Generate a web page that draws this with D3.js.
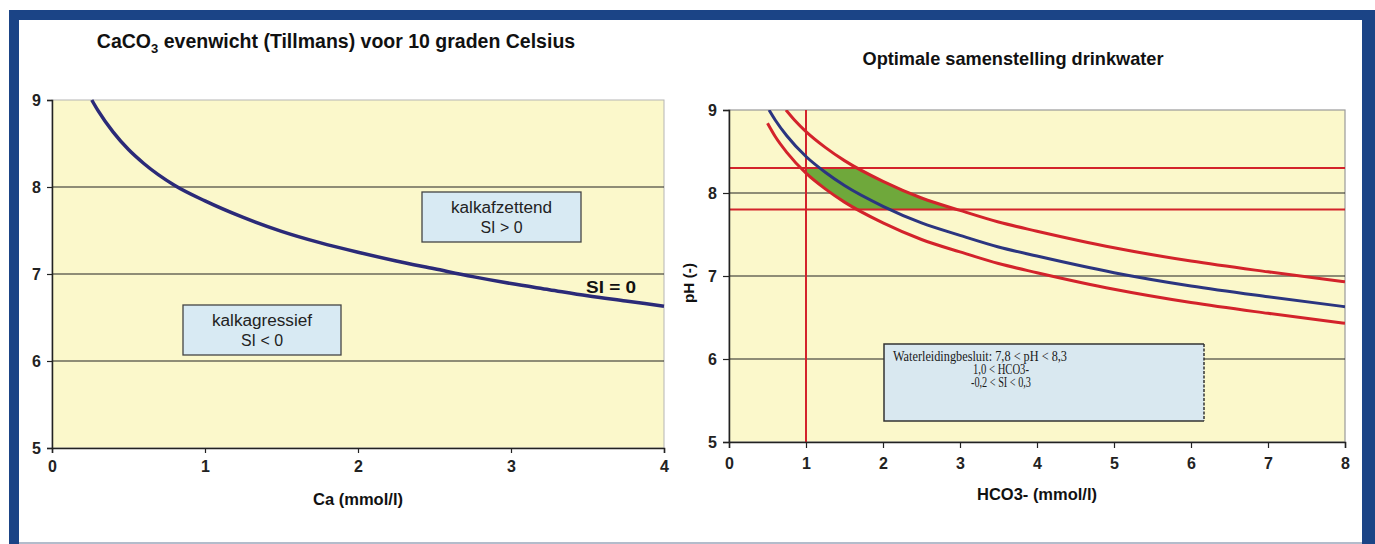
<!DOCTYPE html>
<html>
<head>
<meta charset="utf-8">
<script src="https://cdn.jsdelivr.net/npm/d3@7/dist/d3.min.js"></script>
<style>
  html, body { margin: 0; padding: 0; background: #ffffff; }
  svg { display: block; }
  .tick text { fill: #222; }
</style>
</head>
<body>
<svg id="chart" width="1375" height="544"></svg>
<script>
// ---- Left panel: CaCO3 equilibrium curve (SI = 0) at 10 °C ----
const caValues = [0.26, 0.3, 0.4, 0.5, 0.6, 0.8, 1.0, 1.25, 1.5, 1.75, 2.0, 2.25, 2.5, 2.75, 3.0, 3.25, 3.5, 3.75, 4.0];
const caPH     = [9.00, 8.88, 8.63, 8.43, 8.27, 8.02, 7.84, 7.65, 7.49, 7.36, 7.25, 7.15, 7.06, 6.97, 6.89, 6.82, 6.75, 6.69, 6.63];
const leftXTicks = [0, 1, 2, 3, 4];
const leftYTicks = [5, 6, 7, 8, 9];
const leftGrid = [6, 7, 8];

// ---- Right panel: optimal drinking-water composition ----
const hco3Blue = [0.52, 0.6, 0.75, 1.0, 1.25, 1.5, 2.0, 2.5, 3.0, 3.5, 4.0, 5.0, 6.0, 7.0, 8.0];
const phBlue   = [9.00, 8.88, 8.69, 8.44, 8.25, 8.09, 7.84, 7.64, 7.49, 7.35, 7.24, 7.04, 6.88, 6.75, 6.63];
const hco3Upper = [0.74, 0.85, 1.0, 1.25, 1.5, 2.0, 2.5, 3.0, 3.5, 4.0, 5.0, 6.0, 7.0, 8.0];
const phUpper   = [9.00, 8.88, 8.74, 8.55, 8.39, 8.14, 7.94, 7.79, 7.65, 7.54, 7.34, 7.18, 7.05, 6.93];
const hco3Lower = [0.5, 0.6, 0.75, 1.0, 1.25, 1.5, 2.0, 2.5, 3.0, 3.5, 4.0, 5.0, 6.0, 7.0, 8.0];
const phLower   = [8.84, 8.68, 8.49, 8.24, 8.05, 7.89, 7.64, 7.44, 7.29, 7.15, 7.04, 6.84, 6.68, 6.55, 6.43];
// region that satisfies all limits
const zoneHCO3 = [1.0, 1.66, 1.8, 2.0, 2.25, 2.5, 2.75, 2.95, 1.66, 1.5, 1.35, 1.2, 1.1, 1.0];
const zonePH   = [8.30, 8.30, 8.23, 8.14, 8.04, 7.94, 7.86, 7.80, 7.80, 7.89, 7.98, 8.08, 8.16, 8.24];
const phLimits = [7.8, 8.3];
const hco3Limit = 1.0;
const rightXTicks = [0, 1, 2, 3, 4, 5, 6, 7, 8];
const rightYTicks = [5, 6, 7, 8, 9];
const rightGrid = [6, 7, 8];

const svg = d3.select("#chart");
const frameBlue = "#1b4486";
const plotFill = "#fbf8cb";
const sans = "'Liberation Sans', Arial, sans-serif";

// outer frame
svg.append("rect").attr("x", 9).attr("y", 10).attr("width", 1366).attr("height", 534).attr("fill", frameBlue);
svg.append("rect").attr("x", 19).attr("y", 20).attr("width", 1343).attr("height", 522).attr("fill", "#ffffff");
svg.append("rect").attr("x", 19).attr("y", 542).attr("width", 1343).attr("height", 2).attr("fill", "#b3bccb");

// ===== Left panel =====
const xL = d3.scaleLinear().domain([0, 4]).range([52, 664]);
const yL = d3.scaleLinear().domain([5, 9]).range([448, 100]);
const gL = svg.append("g");

gL.append("rect")
  .attr("x", xL(0)).attr("y", yL(9))
  .attr("width", xL(4) - xL(0)).attr("height", yL(5) - yL(9))
  .attr("fill", plotFill).attr("stroke", "#b5b5b5").attr("stroke-width", 1);

gL.selectAll("line.grid").data(leftGrid).join("line")
  .attr("class", "grid")
  .attr("x1", xL(0)).attr("x2", xL(4))
  .attr("y1", d => yL(d)).attr("y2", d => yL(d))
  .attr("stroke", "#222").attr("stroke-width", 1.2);

const axLY = gL.append("g").attr("transform", `translate(${xL(0)},0)`)
  .call(d3.axisLeft(yL).tickValues(leftYTicks).tickSize(5).tickPadding(6).tickFormat(d3.format("d")));
const axLX = gL.append("g").attr("transform", `translate(0,${yL(5)})`)
  .call(d3.axisBottom(xL).tickValues(leftXTicks).tickSize(5).tickPadding(8).tickFormat(d3.format("d")));
[axLY, axLX].forEach(a => {
  a.select(".domain").attr("stroke", "#222").attr("stroke-width", 1.5);
  a.selectAll(".tick line").attr("stroke", "#222").attr("stroke-width", 1.2);
  a.selectAll(".tick text").attr("font-family", sans).attr("font-size", 16).attr("font-weight", "bold");
});

const lineL = d3.line().x((d, i) => xL(caValues[i])).y(d => yL(d)).curve(d3.curveMonotoneX);
gL.append("path").datum(caPH).attr("d", lineL)
  .attr("fill", "none").attr("stroke", "#2b2a78").attr("stroke-width", 3.5);

// left title with subscript
const tL = gL.append("text").attr("x", 336).attr("y", 48)
  .attr("text-anchor", "middle").attr("font-family", sans).attr("font-weight", "bold").attr("font-size", 19.5)
  .attr("fill", "#111");
tL.append("tspan").text("CaCO");
tL.append("tspan").attr("dy", 5).attr("font-size", 13).text("3");
tL.append("tspan").attr("dy", -5).text(" evenwicht (Tillmans) voor 10 graden Celsius");

gL.append("text").attr("x", 358).attr("y", 505).attr("text-anchor", "middle")
  .attr("font-family", sans).attr("font-weight", "bold").attr("font-size", 16).attr("fill", "#111")
  .attr("textLength", 90).attr("lengthAdjust", "spacingAndGlyphs")
  .text("Ca (mmol/l)");

// annotation boxes
function noteBox(g, x, y, w, h, lines, widths) {
  g.append("rect").attr("x", x).attr("y", y).attr("width", w).attr("height", h)
    .attr("fill", "#d8eaf3").attr("stroke", "#444").attr("stroke-width", 1.3);
  lines.forEach((t, i) => {
    g.append("text").attr("x", x + w / 2).attr("y", y + 21 + i * 20)
      .attr("text-anchor", "middle").attr("font-family", sans).attr("font-size", 16).attr("fill", "#222")
      .attr("textLength", widths[i]).attr("lengthAdjust", "spacingAndGlyphs").text(t);
  });
}
noteBox(gL, 422, 192, 159, 50, ["kalkafzettend", "SI > 0"], [101, 42]);
noteBox(gL, 183, 305, 158, 50, ["kalkagressief", "SI < 0"], [100, 42]);

gL.append("text").attr("x", 611).attr("y", 293).attr("text-anchor", "middle")
  .attr("font-family", sans).attr("font-weight", "bold").attr("font-size", 17).attr("fill", "#111")
  .attr("textLength", 50).attr("lengthAdjust", "spacingAndGlyphs")
  .text("SI = 0");

// ===== Right panel =====
const xR = d3.scaleLinear().domain([0, 8]).range([729, 1345]);
const yR = d3.scaleLinear().domain([5, 9]).range([442, 110]);
const gR = svg.append("g");

gR.append("defs").append("clipPath").attr("id", "clipR")
  .append("rect").attr("x", xR(0)).attr("y", yR(9)).attr("width", xR(8) - xR(0)).attr("height", yR(5) - yR(9));

gR.append("rect")
  .attr("x", xR(0)).attr("y", yR(9))
  .attr("width", xR(8) - xR(0)).attr("height", yR(5) - yR(9))
  .attr("fill", plotFill).attr("stroke", "#9a9a9a").attr("stroke-width", 1.2);

gR.selectAll("line.grid").data(rightGrid).join("line")
  .attr("class", "grid")
  .attr("x1", xR(0)).attr("x2", xR(8))
  .attr("y1", d => yR(d)).attr("y2", d => yR(d))
  .attr("stroke", "#222").attr("stroke-width", 1.2);

const plotR = gR.append("g").attr("clip-path", "url(#clipR)");

const zone = d3.line().x((d, i) => xR(zoneHCO3[i])).y(d => yR(d));
plotR.append("path")
  .attr("d", zone(zonePH) + "Z")
  .attr("fill", "#6fa83b").attr("stroke", "#5d7f2a").attr("stroke-width", 1);

plotR.selectAll("line.limit").data(phLimits).join("line")
  .attr("class", "limit")
  .attr("x1", xR(0)).attr("x2", xR(8))
  .attr("y1", d => yR(d)).attr("y2", d => yR(d))
  .attr("stroke", "#d3232b").attr("stroke-width", 2);
plotR.append("line")
  .attr("x1", xR(hco3Limit)).attr("x2", xR(hco3Limit))
  .attr("y1", yR(9)).attr("y2", yR(5))
  .attr("stroke", "#d3232b").attr("stroke-width", 2);

function curveR(xs, ys, color) {
  const ln = d3.line().x((d, i) => xR(xs[i])).y(d => yR(d)).curve(d3.curveMonotoneX);
  plotR.append("path").datum(ys).attr("d", ln)
    .attr("fill", "none").attr("stroke", color).attr("stroke-width", 3);
}
curveR(hco3Upper, phUpper, "#d3232b");
curveR(hco3Lower, phLower, "#d3232b");
curveR(hco3Blue, phBlue, "#2b3580");

const axRY = gR.append("g").attr("transform", `translate(${xR(0)},0)`)
  .call(d3.axisLeft(yR).tickValues(rightYTicks).tickSize(6).tickPadding(6).tickFormat(d3.format("d")));
const axRX = gR.append("g").attr("transform", `translate(0,${yR(5)})`)
  .call(d3.axisBottom(xR).tickValues(rightXTicks).tickSize(6).tickPadding(10).tickFormat(d3.format("d")));
[axRY, axRX].forEach(a => {
  a.select(".domain").attr("stroke", "#222").attr("stroke-width", 1.5);
  a.selectAll(".tick line").attr("stroke", "#222").attr("stroke-width", 1.2);
  a.selectAll(".tick text").attr("font-family", sans).attr("font-size", 16).attr("font-weight", "bold");
});

gR.append("text").attr("x", 1013).attr("y", 65).attr("text-anchor", "middle")
  .attr("font-family", sans).attr("font-weight", "bold").attr("font-size", 19).attr("fill", "#111")
  .attr("textLength", 301).attr("lengthAdjust", "spacingAndGlyphs")
  .text("Optimale samenstelling drinkwater");

gR.append("text").attr("x", 1037).attr("y", 500).attr("text-anchor", "middle")
  .attr("font-family", sans).attr("font-weight", "bold").attr("font-size", 16).attr("fill", "#111")
  .attr("textLength", 120).attr("lengthAdjust", "spacingAndGlyphs")
  .text("HCO3- (mmol/l)");

gR.append("text").attr("transform", "translate(694,283) rotate(-90)").attr("text-anchor", "middle")
  .attr("font-family", sans).attr("font-weight", "bold").attr("font-size", 15).attr("fill", "#111")
  .attr("textLength", 40).attr("lengthAdjust", "spacingAndGlyphs")
  .text("pH (-)");

// legal limits box (right edge drawn dashed)
const lb = { x: 884, y: 344, w: 320, h: 77 };
gR.append("rect").attr("x", lb.x).attr("y", lb.y).attr("width", lb.w).attr("height", lb.h)
  .attr("fill", "#d9e8f0").attr("stroke", "none");
gR.append("path")
  .attr("d", `M${lb.x + lb.w},${lb.y} H${lb.x} V${lb.y + lb.h} H${lb.x + lb.w}`)
  .attr("fill", "none").attr("stroke", "#333").attr("stroke-width", 1.5);
gR.append("line")
  .attr("x1", lb.x + lb.w).attr("x2", lb.x + lb.w).attr("y1", lb.y).attr("y2", lb.y + lb.h)
  .attr("stroke", "#333").attr("stroke-width", 1.5).attr("stroke-dasharray", "3,1.5");
const serif = "'Liberation Serif', 'Times New Roman', serif";
gR.append("text").attr("x", lb.x + 9).attr("y", lb.y + 17)
  .attr("font-family", serif).attr("font-size", 14).attr("fill", "#1a1a1a")
  .attr("textLength", 174).attr("lengthAdjust", "spacingAndGlyphs")
  .text("Waterleidingbesluit:  7,8 < pH <  8,3");
gR.append("text").attr("x", 1001).attr("y", lb.y + 30).attr("text-anchor", "middle")
  .attr("font-family", serif).attr("font-size", 14).attr("fill", "#1a1a1a")
  .attr("textLength", 56).attr("lengthAdjust", "spacingAndGlyphs")
  .text("1,0 < HCO3-");
gR.append("text").attr("x", 1001).attr("y", lb.y + 43).attr("text-anchor", "middle")
  .attr("font-family", serif).attr("font-size", 14).attr("fill", "#1a1a1a")
  .attr("textLength", 60).attr("lengthAdjust", "spacingAndGlyphs")
  .text("-0,2 < SI < 0,3");
</script>
</body>
</html>
